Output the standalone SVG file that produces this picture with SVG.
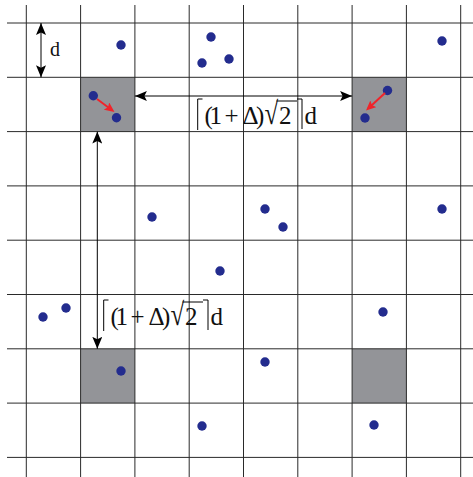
<svg xmlns="http://www.w3.org/2000/svg" width="473" height="477" viewBox="0 0 473 477">
  <style>
    .grid line { stroke: #2a2a2a; stroke-width: 1; }
    .cell { fill: #939498; }
    .dot { fill: #232c8e; }
    .blk { stroke: #000; stroke-width: 1; fill: none; }
    .red { stroke: #f0242a; stroke-width: 2; fill: none; }
    .br { stroke: #000; stroke-width: 1; fill: none; }
    .lbl { font-family: "Liberation Serif", "Times New Roman", serif; font-size: 25px; fill: #111; }
  </style>
  <defs>
    <marker id="ah" viewBox="0 0 12 10" markerWidth="12" markerHeight="10" refX="12" refY="5" orient="auto-start-reverse" markerUnits="userSpaceOnUse">
      <path d="M0,0 L12,5 L0,10 L2.5,5 z" fill="#000"/>
    </marker>
    <marker id="rh" viewBox="0 0 10 9" markerWidth="10" markerHeight="9" refX="7" refY="4.5" orient="auto" markerUnits="userSpaceOnUse">
      <path d="M0,0 L10,4.5 L0,9 L2,4.5 z" fill="#f0242a"/>
    </marker>
  </defs>
  <rect width="473" height="477" fill="#fff"/>

  <g id="cells">
    <rect class="cell" x="80.6" y="77.3" width="54.3" height="54.3"/>
    <rect class="cell" x="352.1" y="77.3" width="54.3" height="54.3"/>
    <rect class="cell" x="80.6" y="348.8" width="54.3" height="54.3"/>
    <rect class="cell" x="352.1" y="348.8" width="54.3" height="54.3"/>
  </g>

  <g id="grid" class="grid">
    <line x1="26.3" y1="5" x2="26.3" y2="477"/>
    <line x1="80.6" y1="5" x2="80.6" y2="477"/>
    <line x1="134.9" y1="5" x2="134.9" y2="477"/>
    <line x1="189.2" y1="5" x2="189.2" y2="477"/>
    <line x1="243.5" y1="5" x2="243.5" y2="477"/>
    <line x1="297.8" y1="5" x2="297.8" y2="477"/>
    <line x1="352.1" y1="5" x2="352.1" y2="477"/>
    <line x1="406.4" y1="5" x2="406.4" y2="477"/>
    <line x1="460.7" y1="5" x2="460.7" y2="477"/>
    <line x1="7" y1="23" x2="473" y2="23"/>
    <line x1="7" y1="77.3" x2="473" y2="77.3"/>
    <line x1="7" y1="131.6" x2="473" y2="131.6"/>
    <line x1="7" y1="185.9" x2="473" y2="185.9"/>
    <line x1="7" y1="240.2" x2="473" y2="240.2"/>
    <line x1="7" y1="294.5" x2="473" y2="294.5"/>
    <line x1="7" y1="348.8" x2="473" y2="348.8"/>
    <line x1="7" y1="403.1" x2="473" y2="403.1"/>
    <line x1="7" y1="457.4" x2="473" y2="457.4"/>
  </g>

  <g id="points">
    <circle class="dot" cx="121" cy="45" r="4.7"/>
    <circle class="dot" cx="211" cy="37" r="4.7"/>
    <circle class="dot" cx="202" cy="63" r="4.7"/>
    <circle class="dot" cx="229" cy="59" r="4.7"/>
    <circle class="dot" cx="442" cy="41" r="4.7"/>
    <circle class="dot" cx="93.3" cy="95.7" r="4.7"/>
    <circle class="dot" cx="116.5" cy="117.7" r="4.7"/>
    <circle class="dot" cx="387.5" cy="90.5" r="4.7"/>
    <circle class="dot" cx="365" cy="118" r="4.7"/>
    <circle class="dot" cx="152" cy="217" r="4.7"/>
    <circle class="dot" cx="265" cy="209" r="4.7"/>
    <circle class="dot" cx="283" cy="227" r="4.7"/>
    <circle class="dot" cx="442" cy="209" r="4.7"/>
    <circle class="dot" cx="220" cy="271" r="4.7"/>
    <circle class="dot" cx="43" cy="317" r="4.7"/>
    <circle class="dot" cx="66" cy="308" r="4.7"/>
    <circle class="dot" cx="383" cy="312" r="4.7"/>
    <circle class="dot" cx="121" cy="371" r="4.7"/>
    <circle class="dot" cx="265" cy="362" r="4.7"/>
    <circle class="dot" cx="202" cy="426" r="4.7"/>
    <circle class="dot" cx="374" cy="425" r="4.7"/>
  </g>

  <g id="connectors">
    <line class="blk" x1="41" y1="23" x2="41" y2="77.3" marker-start="url(#ah)" marker-end="url(#ah)"/>
    <line class="blk" x1="134.9" y1="96" x2="352.1" y2="96" marker-start="url(#ah)" marker-end="url(#ah)"/>
    <line class="blk" x1="97.3" y1="131.6" x2="97.3" y2="348.8" marker-start="url(#ah)" marker-end="url(#ah)"/>
    <line class="red" x1="97" y1="99" x2="112.1" y2="110.2" marker-end="url(#rh)"/>
    <line class="red" x1="385" y1="93" x2="368.2" y2="108.5" marker-end="url(#rh)"/>
  </g>

  <g id="label-d">
    <text class="lbl" x="50" y="56" style="font-size:20px">d</text>
  </g>

  <g id="label-top">
    <path class="br" d="M202.5,99 H197.7 V130"/>
    <path class="br" d="M297,99 H302 V129"/>
    <line class="br" x1="276.5" y1="101" x2="297" y2="101"/>
    <text class="lbl" x="204.5 209.5 224.5 242.5 256" y="123.5">(1+Δ)</text>
    <text class="lbl" transform="translate(264.5,123.5) scale(1,1.27)" x="0" y="0">√</text>
    <text class="lbl" x="279" y="123.5">2</text>
    <text class="lbl" x="304.5" y="123.5">d</text>
  </g>

  <g id="label-left">
    <path class="br" d="M108.5,300 H103.7 V331"/>
    <path class="br" d="M203,300 H208 V330"/>
    <line class="br" x1="182.5" y1="302" x2="203" y2="302"/>
    <text class="lbl" x="110.5 115.5 130.5 148.5 162" y="324.5">(1+Δ)</text>
    <text class="lbl" transform="translate(170.5,324.5) scale(1,1.27)" x="0" y="0">√</text>
    <text class="lbl" x="185" y="324.5">2</text>
    <text class="lbl" x="210.5" y="324.5">d</text>
  </g>
</svg>
